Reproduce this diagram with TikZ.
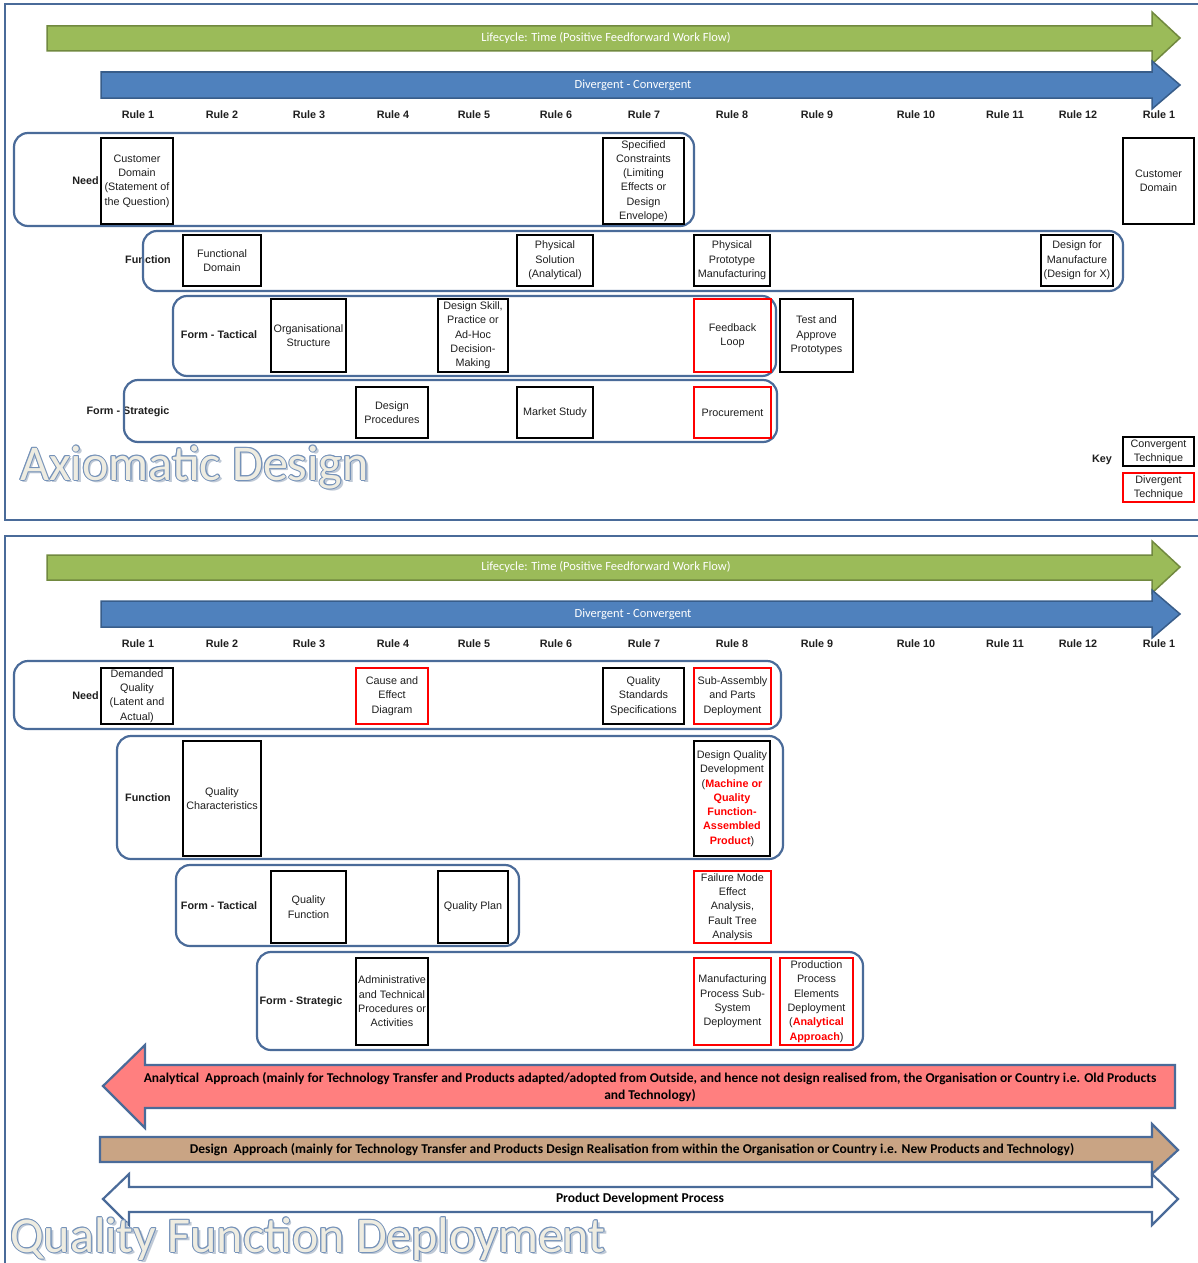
\documentclass[tikz,border=0pt]{standalone}
\usepackage{fontspec}
\setmainfont{Liberation Sans}
\newfontfamily\calfont{Carlito}
\definecolor{rowblue}{HTML}{4A6B99}
\definecolor{grnfill}{HTML}{9BBB59}
\definecolor{grnline}{HTML}{71893F}
\definecolor{blufill}{HTML}{4F81BD}
\definecolor{bluline}{HTML}{385D8A}
\definecolor{salmonfill}{HTML}{FF7F7F}
\definecolor{tanfill}{HTML}{C9A484}
\definecolor{creamfill}{HTML}{EEECE1}
\definecolor{titleline}{HTML}{7592B9}
\definecolor{titleshadow}{HTML}{BFC9D6}
\definecolor{txtc}{HTML}{1F1F1F}
\tikzset{
  frame/.style={draw=rowblue, line width=2.5pt},
  row/.style={draw=rowblue, line width=2.2pt, rounded corners=14pt},
  tbox/.style={draw=black, line width=1.8pt, fill=white, inner sep=1pt, align=center,
    font=\fontsize{10.8}{14.3}\selectfont, text=txtc},
  rbox/.style={tbox, draw=red},
  rulelbl/.style={font=\bfseries\fontsize{10.8}{13}\selectfont, text=txtc},
  rowlbl/.style={font=\bfseries\fontsize{10.8}{13}\selectfont, text=txtc},
  atext/.style={font=\calfont\fontsize{12.5}{14}\selectfont, text=white},
  btext/.style={font=\calfont\bfseries\fontsize{13.5}{17.5}\selectfont, align=center, text=black},
  garrow/.style={fill=grnfill, draw=grnline, line width=1.5pt, line join=miter},
  barrow/.style={fill=blufill, draw=bluline, line width=1.5pt, line join=miter},
  bigarrow/.style={draw=rowblue, line width=2.2pt, line join=miter},
  titlefont/.style={font=\calfont\fontsize{50}{55}\selectfont, inner sep=0pt, anchor=base west},
}
\newcommand{\rd}[1]{\textcolor{red}{\bfseries #1}}
\begin{document}
\begin{tikzpicture}[x=1pt,y=-1pt]
\useasboundingbox (0,0) rectangle (1197,1263);
\fill[white] (0,0) rectangle (1197,1263);

% ================= TOP PANEL =================
\draw[frame] (1205,4) -- (5,4) -- (5,520) -- (1205,520);

\draw[garrow] (47,26) -- (1152,26) -- (1152,12) -- (1180,38) -- (1152,64) -- (1152,51) -- (47,51) -- cycle;
\node[atext] (lc1) at (606,38) {Lifecycle: Time (Positive Feedforward Work Flow)};
\draw[barrow] (101,72) -- (1152,72) -- (1152,61) -- (1180,85) -- (1152,109) -- (1152,98) -- (101,98) -- cycle;
\node[atext] (dc1) at (633,85) {Divergent - Convergent};

\foreach \x/\t/\n in {138/Rule 1/a,222/Rule 2/b,309/Rule 3/c,393/Rule 4/d,474/Rule 5/e,556/Rule 6/f,644/Rule 7/g,732/Rule 8/h,817/Rule 9/i,916/Rule 10/j,1005/Rule 11/k,1078/Rule 12/l,1159/Rule 1/m}
  \node[rulelbl] (r1\n) at (\x,115) {\t};

% row labels (drawn before rows so that row lines cross them)
\node[rowlbl, anchor=east, inner sep=1pt] (need1) at (100,181) {Need};
\node[rowlbl] (func1) at (148,260) {Function};
\node[rowlbl] (tact1) at (219,335) {Form - Tactical};
\node[rowlbl] (strat1) at (128,412) {Form - Strategic};

\draw[row] (14,133) rectangle (694,226);
\draw[row] (143,231) rectangle (1123,291);
\draw[row] (173,296) rectangle (776,376);
\draw[row] (124,380) rectangle (777,442);

\node[tbox, minimum width=72, minimum height=86] (cd1) at (137,181) {Customer\\Domain\\(Statement of\\the Question)};
\node[tbox, minimum width=81, minimum height=86] (sc1) at (643.5,181) {Specified\\Constraints\\(Limiting\\Effects or\\Design\\Envelope)};
\node[tbox, minimum width=71, minimum height=86] (cd2) at (1158.5,181) {Customer\\Domain};

\node[tbox, minimum width=78, minimum height=51] (fd1) at (222,260.5) {Functional\\Domain};
\node[tbox, minimum width=76, minimum height=51] (ps1) at (555,260.5) {Physical\\Solution\\(Analytical)};
\node[tbox, minimum width=76, minimum height=51] (pp1) at (732,260.5) {Physical\\Prototype\\Manufacturing};
\node[tbox, minimum width=72, minimum height=51] (dfm1) at (1077,260.5) {Design for\\Manufacture\\(Design for X)};

\node[tbox, minimum width=75, minimum height=73] (os1) at (308.5,335.5) {Organisational\\Structure};
\node[tbox, minimum width=70, minimum height=73] (ds1) at (473,335.5) {Design Skill,\\Practice or\\Ad-Hoc\\Decision-\\Making};
\node[rbox, minimum width=77, minimum height=73] (fl1) at (732.5,335.5) {Feedback\\Loop};
\node[tbox, minimum width=73, minimum height=73] (ta1) at (816.5,335.5) {Test and\\Approve\\Prototypes};

\node[tbox, minimum width=72, minimum height=51] (dp1) at (392,412.5) {Design\\Procedures};
\node[tbox, minimum width=76, minimum height=51] (ms1) at (555,412.5) {Market Study};
\node[rbox, minimum width=77, minimum height=51] (pr1) at (732.5,412.5) {Procurement};

\node[rowlbl] (key1) at (1102,460) {Key};
\node[tbox, minimum width=71, minimum height=29] (kc1) at (1158.5,451.5) {Convergent\\Technique};
\node[rbox, minimum width=71, minimum height=29] (kd1) at (1158.5,487.5) {Divergent\\Technique};

\node[titlefont, text=titleshadow] (axs) at (22.5,482.5) {Axiomatic Design};
\foreach \dx/\dy [count=\i] in {1/0,-1/0,0/1,0/-1,0.7/0.7,0.7/-0.7,-0.7/0.7,-0.7/-0.7}
  \node[titlefont, text=titleline] (axo\i) at (20+\dx,480+\dy) {Axiomatic Design};
\node[titlefont, text=creamfill] (ax1) at (20,480) {Axiomatic Design};

% ================= BOTTOM PANEL =================
\draw[frame] (1205,536) -- (5,536) -- (5,1270);

\draw[garrow] (47,555) -- (1152,555) -- (1152,541) -- (1180,567) -- (1152,593) -- (1152,580) -- (47,580) -- cycle;
\node[atext] (lc2) at (606,567) {Lifecycle: Time (Positive Feedforward Work Flow)};
\draw[barrow] (101,601) -- (1152,601) -- (1152,590) -- (1180,614) -- (1152,638) -- (1152,627) -- (101,627) -- cycle;
\node[atext] (dc2) at (633,614) {Divergent - Convergent};

\foreach \x/\t/\n in {138/Rule 1/a,222/Rule 2/b,309/Rule 3/c,393/Rule 4/d,474/Rule 5/e,556/Rule 6/f,644/Rule 7/g,732/Rule 8/h,817/Rule 9/i,916/Rule 10/j,1005/Rule 11/k,1078/Rule 12/l,1159/Rule 1/m}
  \node[rulelbl] (r2\n) at (\x,644) {\t};

\node[rowlbl, anchor=east, inner sep=1pt] (need2) at (100,696) {Need};
\node[rowlbl] (func2) at (148,798) {Function};
\node[rowlbl] (tact2) at (219,906) {Form - Tactical};
\node[rowlbl] (strat2) at (301,1002) {Form - Strategic};

\draw[row] (14,661) rectangle (781,729);
\draw[row] (117,736) rectangle (783,859);
\draw[row] (176,865) rectangle (519,946);
\draw[row] (257,952) rectangle (863,1050);

\node[tbox, minimum width=72, minimum height=56] (dq2) at (137,696) {Demanded\\Quality\\(Latent and\\Actual)};
\node[rbox, minimum width=72, minimum height=56] (ce2) at (392,696) {Cause and\\Effect\\Diagram};
\node[tbox, minimum width=81, minimum height=56] (qs2) at (643.5,696) {Quality\\Standards\\Specifications};
\node[rbox, minimum width=77, minimum height=56] (sa2) at (732.5,696) {Sub-Assembly\\and Parts\\Deployment};

\node[tbox, minimum width=78, minimum height=115] (qc2) at (222,798.5) {Quality\\Characteristics};
\node[tbox, minimum width=76, minimum height=115] (dqd2) at (732,798.5) {Design Quality\\Development\\(\rd{Machine or}\\\rd{Quality}\\\rd{Function-}\\\rd{Assembled}\\\rd{Product})};

\node[tbox, minimum width=75, minimum height=72] (qf2) at (308.5,907) {Quality\\Function};
\node[tbox, minimum width=70, minimum height=72] (qp2) at (473,907) {Quality Plan};
\node[rbox, minimum width=77, minimum height=72] (fm2) at (732.5,907) {Failure Mode\\Effect\\Analysis,\\Fault Tree\\Analysis};

\node[tbox, minimum width=72, minimum height=87] (ad2) at (392,1001.5) {Administrative\\and Technical\\Procedures or\\Activities};
\node[rbox, minimum width=77, minimum height=87] (mp2) at (732.5,1001.5) {Manufacturing\\Process Sub-\\System\\Deployment};
\node[rbox, minimum width=73, minimum height=87] (ppe2) at (816.5,1001.5) {Production\\Process\\Elements\\Deployment\\(\rd{Analytical}\\\rd{Approach})};

% big arrows
\draw[bigarrow, fill=salmonfill] (1175,1065) -- (145,1065) -- (145,1045) -- (103,1086) -- (145,1128) -- (145,1108) -- (1175,1108) -- cycle;
\node[btext] (an2) at (650,1087) {Analytical\ \ Approach (mainly for Technology Transfer and Products adapted/adopted from Outside, and hence not design realised from, the Organisation or Country i.e. Old Products\\and Technology)};

\draw[bigarrow, fill=tanfill] (100,1137) -- (1152,1137) -- (1152,1124) -- (1178,1150) -- (1152,1174) -- (1152,1162) -- (100,1162) -- cycle;
\node[btext] (de2) at (632,1150) {Design\ \ Approach (mainly for Technology Transfer and Products Design Realisation from within the Organisation or Country i.e. New Products and Technology)};

\draw[bigarrow, fill=white] (129,1187) -- (1152,1187) -- (1152,1174) -- (1178,1199) -- (1152,1225) -- (1152,1212) -- (129,1212) -- (129,1225) -- (103,1199) -- (129,1174) -- cycle;
\node[btext] (pd2) at (640,1199) {Product Development Process};

\node[titlefont, text=titleshadow] (qfs) at (12.5,1254.5) {Quality Function Deployment};
\foreach \dx/\dy [count=\i] in {1/0,-1/0,0/1,0/-1,0.7/0.7,0.7/-0.7,-0.7/0.7,-0.7/-0.7}
  \node[titlefont, text=titleline] (qfo\i) at (10+\dx,1252+\dy) {Quality Function Deployment};
\node[titlefont, text=creamfill] (qfd2) at (10,1252) {Quality Function Deployment};
\end{tikzpicture}
\end{document}
